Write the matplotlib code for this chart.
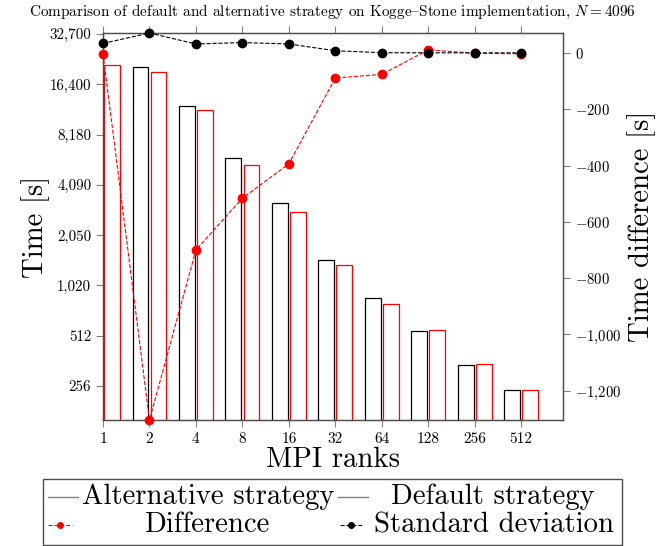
import numpy as np
import matplotlib.pyplot as plt
from matplotlib.lines import Line2D
from matplotlib.patches import Rectangle

plt.rcParams["font.family"] = ["cmr10", "DejaVu Serif"]
plt.rcParams["mathtext.fontset"] = "cm"
plt.rcParams["axes.unicode_minus"] = False

ranks = [1, 2, 4, 8, 16, 32, 64, 128, 256, 512]
alternative = [21900, 20800, 12130, 5900, 3180, 1448, 863, 546, 341, 243]
default = [21300, 19430, 11540, 5380, 2817, 1364, 794, 556, 344, 241]
difference = [-3, -1304, -700, -516, -394, -89, -76, 11, -1, -3]
std_dev = [34, 71, 32, 37, 32, 8, 1, 0.5, 0.5, 0.5]

time_ticks = [256, 512, 1024, 2048, 4096, 8192, 16384, 32768]
time_labels = ["256", "512", "1,020", "2,050", "4,090", "8,180", "16,400", "32,700"]
diff_ticks = [0, -200, -400, -600, -800, -1000, -1200]
diff_labels = ["$0$", "$-200$", "$-400$", "$-600$", "$-800$", "$-1{,}000$", "$-1{,}200$"]

fig = plt.figure(figsize=(6.64, 5.46), dpi=100)
ax = fig.add_axes([103 / 664, 1 - 420 / 546, 460 / 664, 387 / 546])
ax2 = ax.twinx()

x = np.arange(len(ranks))
w = 0.34
ax.bar(x - 0.195, alternative, w, fill=False, edgecolor="black", lw=0.9)
ax.bar(x + 0.195, default, w, fill=False, edgecolor="red", lw=0.9)
ax.set_yscale("log", base=2)
ax.set_ylim(160, 33200)
ax.set_yticks(time_ticks)
ax.set_yticklabels(time_labels)
ax.minorticks_off()
ax.set_xlim(0, 9.9)
ax.set_xticks(x)
ax.set_xticklabels([str(r) for r in ranks])
ax.tick_params(axis="x", top=True, direction="out", length=5, color="0.5", labelsize=11)
ax.tick_params(axis="y", direction="out", length=5, color="0.5", labelsize=10.8)
ax.set_xlabel("MPI ranks", fontsize=20.7, labelpad=1)
ax.set_ylabel("Time [s]", fontsize=20.7)
ax.yaxis.set_label_coords(-0.115, 0.5)

ax2.plot(x, difference, "--", color="red", lw=0.8, marker="o", ms=6, clip_on=False, zorder=3)
ax2.plot(x, std_dev, "--", color="black", lw=0.8, marker="o", ms=6, clip_on=False, zorder=4)
ax2.set_ylim(min(difference), max(std_dev))
ax2.set_yticks(diff_ticks)
ax2.set_yticklabels(diff_labels)
ax2.tick_params(axis="y", direction="out", length=5, color="0.5", labelsize=10.6)
ax2.set_ylabel("Time difference [s]", fontsize=20.7)
ax2.yaxis.set_label_coords(1.139, 0.5)
for a in (ax, ax2):
    for s in a.spines.values():
        s.set_color("0.3")
        s.set_linewidth(0.9)

# "{" is the en dash slot in the TeX text font
fig.suptitle("Comparison of default and alternative strategy on Kogge{Stone implementation, $N = 4096$",
             fontsize=11, y=1 - 12 / 546, va="center")

# legend drawn by hand so that labels sit centred in their columns
W, H = 664, 546
def fx(px):
    return px / W
def fy(py):
    return 1 - py / H

fig.add_artist(Rectangle((fx(43), fy(545)), (622 - 43) / W, (545 - 479) / H,
                         transform=fig.transFigure, fill=False, edgecolor="0.3", lw=1))
fig.add_artist(Line2D([fx(48), fx(78)], [fy(497), fy(497)], transform=fig.transFigure, color="0.5", lw=1))
fig.add_artist(Line2D([fx(338), fx(368)], [fy(497), fy(497)], transform=fig.transFigure, color="0.5", lw=1))
fig.add_artist(Line2D([fx(48), fx(72)], [fy(525), fy(525)], transform=fig.transFigure, color="red", lw=0.8, ls="--"))
fig.add_artist(Line2D([fx(60)], [fy(525)], transform=fig.transFigure, color="red", marker="o", ms=4))
fig.add_artist(Line2D([fx(340), fx(362)], [fy(525), fy(525)], transform=fig.transFigure, color="black", lw=0.8, ls="--"))
fig.add_artist(Line2D([fx(351)], [fy(525)], transform=fig.transFigure, color="black", marker="o", ms=4))
fig.text(fx(208), fy(497), "Alternative strategy", fontsize=20.7, ha="center", va="center")
fig.text(fx(493), fy(497), "Default strategy", fontsize=20.7, ha="center", va="center")
fig.text(fx(207), fy(525), "Difference", fontsize=20.7, ha="center", va="center")
fig.text(fx(494), fy(525), "Standard deviation", fontsize=20.7, ha="center", va="center")

fig.savefig("out.png", dpi=100)
